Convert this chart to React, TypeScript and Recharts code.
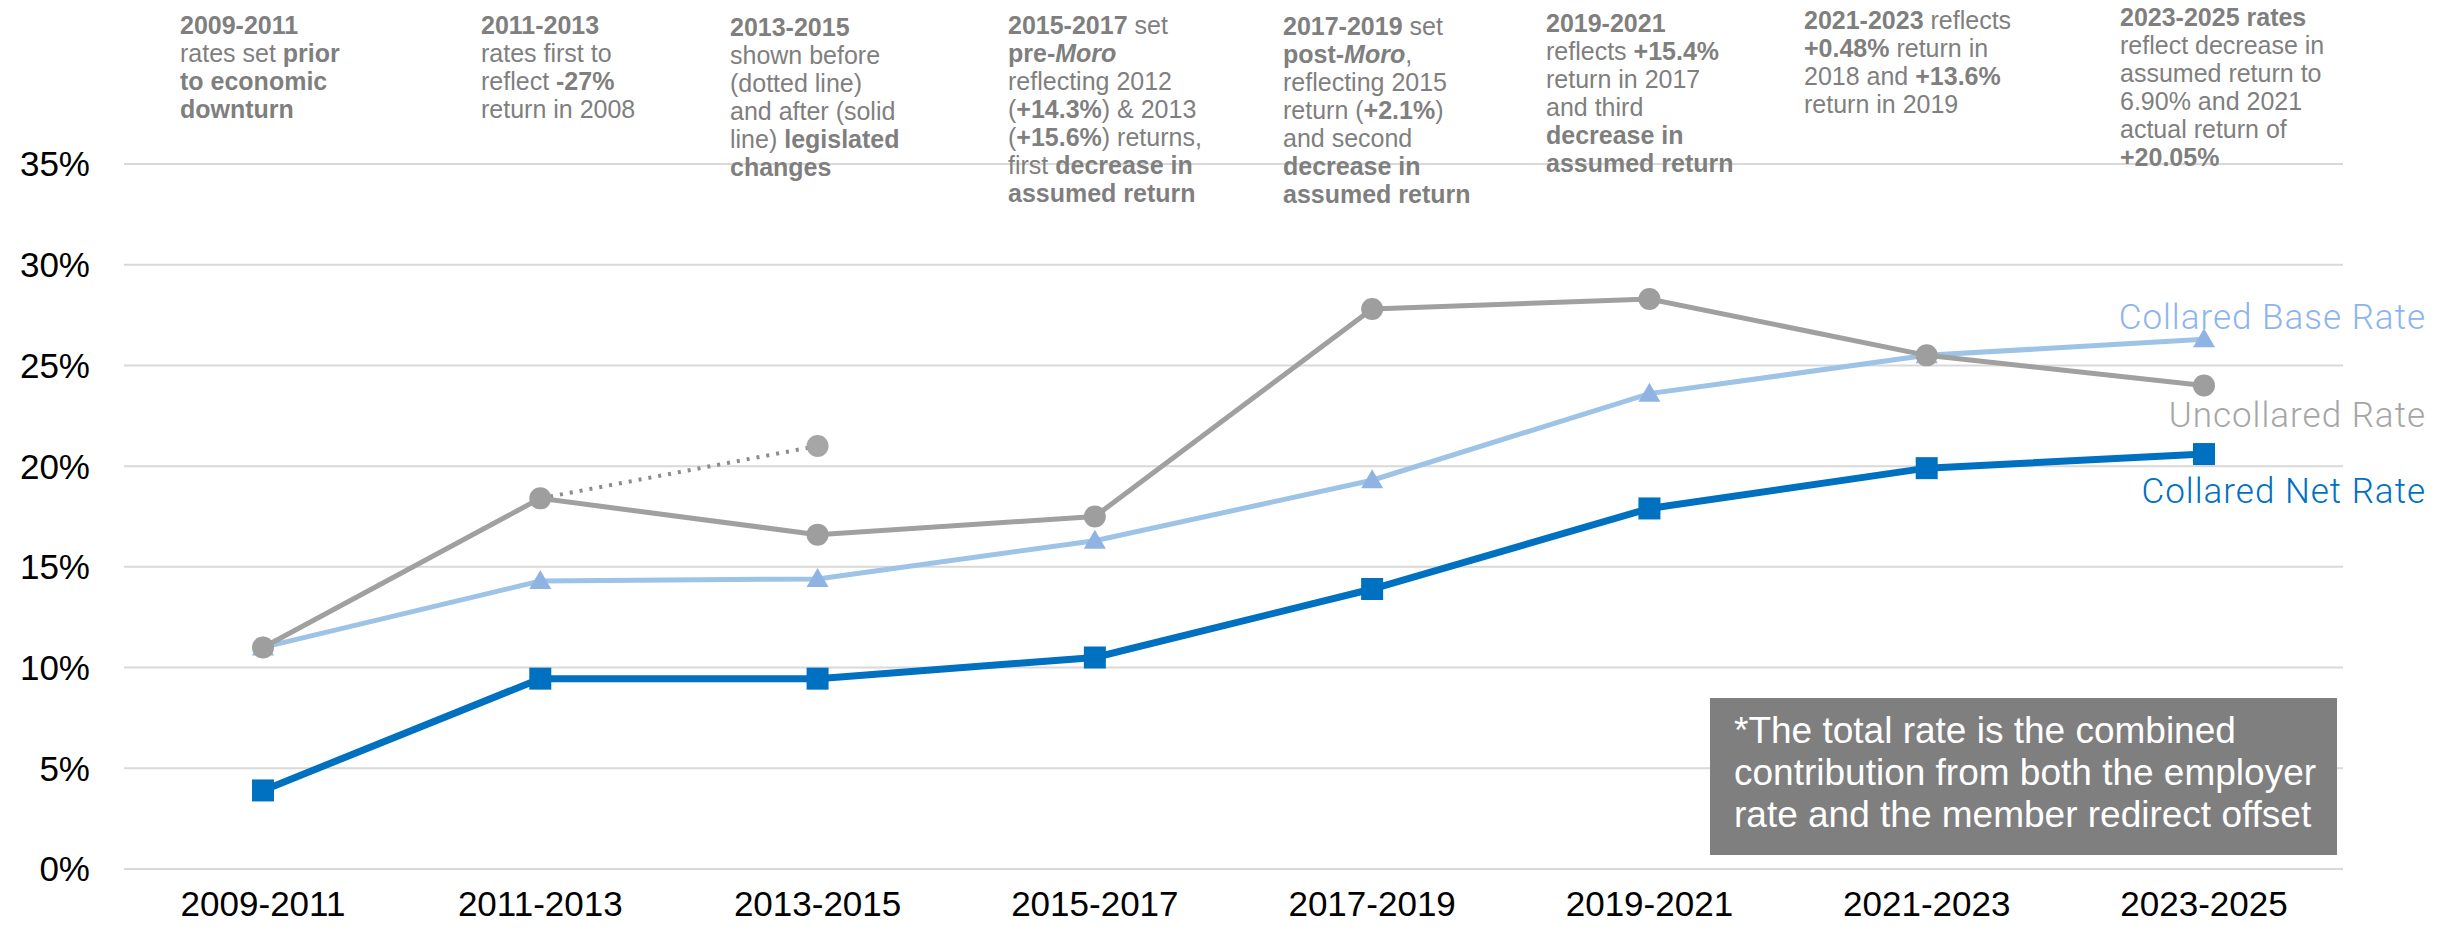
import React from 'react';
import { LineChart, Line, XAxis, YAxis, CartesianGrid, LabelList } from 'recharts';

const periods = ['2009-2011', '2011-2013', '2013-2015', '2015-2017', '2017-2019', '2019-2021', '2021-2023', '2023-2025'];
const uncollaredRate = [11.0, 18.4, 16.6, 17.5, 27.8, 28.3, 25.5, 24.0];
// pre-legislation 2013-2015 rate, drawn dotted
const uncollaredBefore = [null, 18.4, 21.0, null, null, null, null, null];
const collaredBaseRate = [11.0, 14.3, 14.4, 16.3, 19.3, 23.6, 25.5, 26.3];
const collaredNetRate = [3.9, 9.45, 9.45, 10.5, 13.9, 17.9, 19.9, 20.6];
const yTicks = [0, 5, 10, 15, 20, 25, 30, 35];

const seriesNames = {
  base: 'Collared Base Rate',
  uncollared: 'Uncollared Rate',
  net: 'Collared Net Rate',
};

// * toggles bold, _ toggles italic
const notes = [
  { x: 180, y: 11, lines: ['*2009-2011*', 'rates set *prior*', '*to economic*', '*downturn*'] },
  { x: 481, y: 11, lines: ['*2011-2013*', 'rates first to', 'reflect *-27%*', 'return in 2008'] },
  { x: 730, y: 13, lines: ['*2013-2015*', 'shown before', '(dotted line)', 'and after (solid', 'line) *legislated*', '*changes*'] },
  { x: 1008, y: 11, lines: ['*2015-2017* set', '*pre-_Moro_*', 'reflecting 2012', '(*+14.3%*) & 2013', '(*+15.6%*) returns,', 'first *decrease in*', '*assumed return*'] },
  { x: 1283, y: 12, lines: ['*2017-2019* set', '*post-_Moro_*,', 'reflecting 2015', 'return (*+2.1%*)', 'and second', '*decrease in*', '*assumed return*'] },
  { x: 1546, y: 9, lines: ['*2019-2021*', 'reflects *+15.4%*', 'return in 2017', 'and third', '*decrease in*', '*assumed return*'] },
  { x: 1804, y: 6, lines: ['*2021-2023* reflects', '*+0.48%* return in', '2018 and *+13.6%*', 'return in 2019'] },
  { x: 2120, y: 3, lines: ['*2023-2025 rates*', 'reflect decrease in', 'assumed return to', '6.90% and 2021', 'actual return of', '*+20.05%*'] },
];

const footnote = [
  '*The total rate is the combined',
  'contribution from both the employer',
  'rate and the member redirect offset',
];

const data = periods.map((p, i) => ({
  period: p,
  uncollared: uncollaredRate[i],
  before: uncollaredBefore[i],
  base: collaredBaseRate[i],
  net: collaredNetRate[i],
}));

const FONT = '"Liberation Sans", Arial, sans-serif';
const GRAY = '#a0a0a0';
const LIGHT_BLUE = '#9dc3e6';
const BLUE = '#0070c0';

function renderLine(line: string) {
  const parts: React.ReactNode[] = [];
  let bold = false;
  let italic = false;
  let buf = '';
  const flush = () => {
    if (buf) {
      parts.push(
        <span key={parts.length} style={{ fontWeight: bold ? 700 : 400, fontStyle: italic ? 'italic' : 'normal' }}>
          {buf}
        </span>
      );
    }
    buf = '';
  };
  for (const ch of line) {
    if (ch === '*') { flush(); bold = !bold; }
    else if (ch === '_') { flush(); italic = !italic; }
    else buf += ch;
  }
  flush();
  return parts;
}

const squareDot = (p: any) => (
  <rect key={`sq-${p.index}`} x={p.cx - 11} y={p.cy - 11} width={22} height={22} fill={BLUE} />
);
const circleDot = (p: any) => (
  <circle key={`c-${p.index}`} cx={p.cx} cy={p.cy} r={11} fill="#9e9e9e" />
);
const beforeDot = (p: any) =>
  p.index === 2 ? <circle key={`b-${p.index}`} cx={p.cx} cy={p.cy} r={11} fill="#a6a6a6" /> : <g key={`b-${p.index}`} />;
const triangleDot = (p: any) => (
  <polygon
    key={`t-${p.index}`}
    points={`${p.cx},${p.cy - 11} ${p.cx + 11},${p.cy + 8} ${p.cx - 11},${p.cy + 8}`}
    fill="#8fb4e3"
  />
);

const endLabel = (text: string, color: string, dx: number, dy: number) => (props: any) => {
  if (props.index !== periods.length - 1) return null;
  return (
    <text
      x={props.x + dx}
      y={props.y + dy}
      textAnchor="end"
      dominantBaseline="central"
      fill={color}
      style={{ fontFamily: 'Roboto, sans-serif', fontWeight: 300, fontSize: 35, letterSpacing: 1 }}
    >
      {text}
    </text>
  );
};

export default function App() {
  return (
    <div style={{ position: 'absolute', left: 0, top: 0, width: 2438, height: 934, background: '#fff' }}>
      <LineChart
        width={2438}
        height={934}
        data={data}
        margin={{ top: 164, right: 95, bottom: 5, left: 0 }}
      >
        <CartesianGrid vertical={false} stroke="#d9d9d9" strokeWidth={2} />
        <XAxis
          dataKey="period"
          height={60}
          axisLine={false}
          tickLine={false}
          tickSize={0}
          tickMargin={22}
          interval={0}
          padding={{ left: 139, right: 139 }}
          tick={{ fill: '#000', fontSize: 35, fontFamily: FONT }}
        />
        <YAxis
          width={124}
          domain={[0, 35]}
          ticks={yTicks}
          axisLine={false}
          tickLine={false}
          tickSize={0}
          tickMargin={34}
          tickFormatter={(v: number) => `${v}%`}
          tick={{ fill: '#000', fontSize: 35, fontFamily: FONT }}
        />
        <Line
          dataKey="before"
          stroke="#8c8c8c"
          strokeWidth={4}
          strokeDasharray="3 7"
          dot={beforeDot}
          activeDot={false}
          isAnimationActive={false}
        />
        <Line
          dataKey="base"
          stroke={LIGHT_BLUE}
          strokeWidth={5}
          dot={triangleDot}
          activeDot={false}
          isAnimationActive={false}
        >
          <LabelList dataKey="base" content={endLabel(seriesNames.base, '#8db4f0', 222, -22)} />
        </Line>
        <Line
          dataKey="uncollared"
          stroke={GRAY}
          strokeWidth={5}
          dot={circleDot}
          activeDot={false}
          isAnimationActive={false}
        >
          <LabelList dataKey="uncollared" content={endLabel(seriesNames.uncollared, '#a6a6a6', 222, 30)} />
        </Line>
        <Line
          dataKey="net"
          stroke={BLUE}
          strokeWidth={7}
          dot={squareDot}
          activeDot={false}
          isAnimationActive={false}
        >
          <LabelList dataKey="net" content={endLabel(seriesNames.net, BLUE, 222, 37)} />
        </Line>
      </LineChart>

      {notes.map((n, i) => (
        <div
          key={i}
          style={{
            position: 'absolute', left: n.x, top: n.y, fontFamily: FONT, fontSize: 25,
            lineHeight: '28px', color: '#7f7f7f', whiteSpace: 'pre',
          }}
        >
          {n.lines.map((l, j) => <div key={j}>{renderLine(l)}</div>)}
        </div>
      ))}

      <div
        style={{
          position: 'absolute', left: 1710, top: 698, width: 627, height: 157, boxSizing: 'border-box',
          background: '#7f7f7f', color: '#fff', fontFamily: FONT, fontSize: 37, lineHeight: '42px',
          padding: '12px 0 0 24px', whiteSpace: 'pre',
        }}
      >
        {footnote.map((l, i) => <div key={i}>{l}</div>)}
      </div>
    </div>
  );
}
